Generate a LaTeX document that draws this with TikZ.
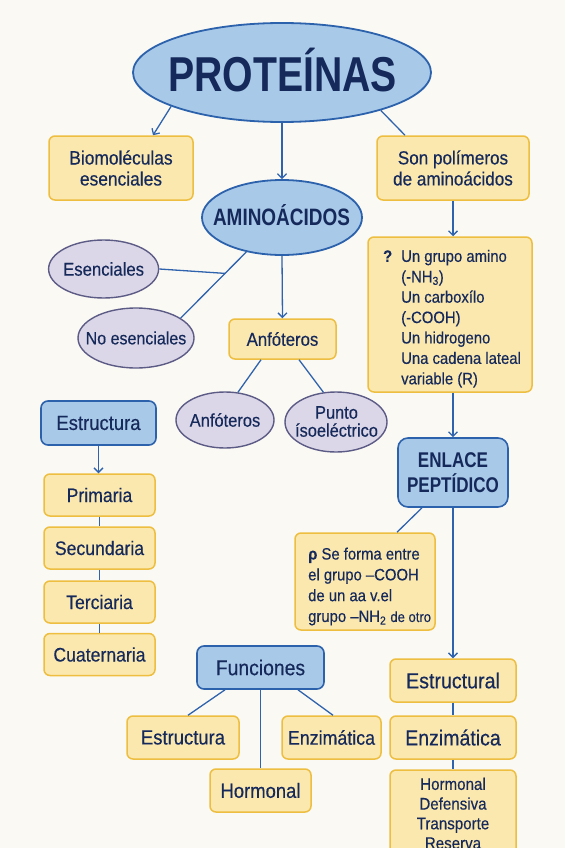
\documentclass[tikz,border=0pt]{standalone}
\usepackage{fontspec}
\setmainfont{Liberation Sans}[FakeStretch=0.9,FakeBold=0.35]
\newfontfamily\hfont{Liberation Sans}[FakeStretch=0.8]
\usetikzlibrary{shapes.geometric,arrows.meta}
\definecolor{bg}{HTML}{FBF9F4}
\definecolor{bf}{HTML}{A9C9E9}
\definecolor{bb}{HTML}{2C62AC}
\definecolor{yf}{HTML}{FBE8AF}
\definecolor{yb}{HTML}{EDBE3F}
\definecolor{lf}{HTML}{DCD7E8}
\definecolor{lb}{HTML}{5C5B86}
\definecolor{navy}{HTML}{15295A}
\definecolor{ln}{HTML}{2F63AD}
\begin{document}
\begin{tikzpicture}[x=1pt,y=-1pt,
  every node/.style={text=navy},
  blueell/.style={ellipse, draw=bb, fill=bf, line width=1.8pt},
  lell/.style={ellipse, draw=lb, fill=lf, line width=1.4pt},
  ybox/.style={rectangle, rounded corners=6pt, draw=yb, fill=yf, line width=1.5pt, align=center, inner sep=0pt},
  bbox/.style={rectangle, rounded corners=7pt, draw=bb, fill=bf, line width=1.6pt, align=center, inner sep=0pt},
  conn/.style={draw=ln, line width=1.3pt},
  arr/.style={conn, -{Straight Barb[length=4.5pt,width=9pt]}},
  lbl/.style={inner sep=0pt, align=center},
]
\fill[bg] (0,0) rectangle (565,848);
\useasboundingbox (0,0) rectangle (565,848);
\clip (0,0) rectangle (565,848);

% top
\node[blueell, minimum width=298pt, minimum height=99pt] (prot) at (282,72.5) {};
\node[lbl, anchor=base, font=\hfont\bfseries\fontsize{49}{49}\selectfont] (protT) at (282.5,91.7) {PROTEÍNAS};

\node[ybox, minimum width=144pt, minimum height=64pt, font=\fontsize{19.3}{21}\selectfont] (bio) at (121,168) {Biomoléculas\\esenciales};
\node[ybox, minimum width=152pt, minimum height=64pt, font=\fontsize{19}{21}\selectfont] (son) at (453,168) {Son polímeros\\de aminoácidos};

\node[blueell, minimum width=160pt, minimum height=75pt] (amino) at (282,217.5) {};
\node[lbl, anchor=base, font=\hfont\bfseries\fontsize{23.7}{24}\selectfont] (aminoT) at (281.5,225) {AMINOÁCIDOS};

\node[lell, minimum width=110pt, minimum height=58pt] (esen) at (103.6,269) {};
\node[lbl, font=\fontsize{18.6}{20}\selectfont] (esenT) at (esen) {Esenciales};
\node[lell, minimum width=116pt, minimum height=60pt] (noes) at (136,338) {};
\node[lbl, font=\fontsize{17.8}{20}\selectfont] (noesT) at (noes) {No esenciales};

\node[ybox, minimum width=107pt, minimum height=40pt, font=\fontsize{18.6}{20}\selectfont] (anf) at (282.5,339) {Anfóteros};
\node[lell, minimum width=98pt, minimum height=56pt] (anfe) at (225,420) {};
\node[lbl, font=\fontsize{18.3}{20}\selectfont] (anfeT) at (anfe) {Anfóteros};
\node[lell, minimum width=102pt, minimum height=60pt] (pto) at (336,422) {};
\node[lbl, font=\fontsize{18.2}{18}\selectfont] (ptoT) at (336.5,421.5) {Punto\\ísoeléctrico};

% list box
\node[ybox, minimum width=164pt, minimum height=155pt] (lst) at (450,314.5) {};
\node[lbl, anchor=north west, align=left, font=\fontsize{16.5}{20.4}\selectfont] (lstT) at (401,249.7) {\llap{\textbf{?}\hspace{9pt}}Un grupo amino\\(-NH\textsubscript{3})\\Un carboxílo\\(-COOH)\\Un hidrogeno\\Una cadena lateal\\variable (R)};

% estructura column
\node[bbox, minimum width=115pt, minimum height=44pt, font=\fontsize{20.5}{22}\selectfont] (estr) at (98.5,423) {Estructura};
\node[ybox, minimum width=111pt, minimum height=42pt, font=\fontsize{19.6}{21}\selectfont] (prim) at (99.5,495) {Primaria};
\node[ybox, minimum width=111pt, minimum height=42pt, font=\fontsize{19.6}{21}\selectfont] (sec) at (99.5,548) {Secundaria};
\node[ybox, minimum width=111pt, minimum height=42pt, font=\fontsize{19.6}{21}\selectfont] (terc) at (99.5,602) {Terciaria};
\node[ybox, minimum width=111pt, minimum height=42pt, font=\fontsize{19.6}{21}\selectfont] (cuat) at (99.5,654.5) {Cuaternaria};

% enlace
\node[bbox, rounded corners=10pt, minimum width=110pt, minimum height=69pt, font=\hfont\bfseries\fontsize{21.3}{24.4}\selectfont] (enl) at (453,472.5) {ENLACE\\PEPTÍDICO};

\node[ybox, minimum width=140pt, minimum height=97pt] (sef) at (365,581.5) {};
\node[lbl, anchor=north west, align=left, font=\fontsize{16.5}{20.8}\selectfont] (sefT) at (308,547.4) {\textbf{ρ} Se forma entre\\el grupo –COOH\\de un aa v.el\\grupo –NH\textsubscript{2} {\fontsize{14.5}{20.8}\selectfont de otro}};

% funciones
\node[bbox, minimum width=127pt, minimum height=43pt, font=\fontsize{21.5}{22}\selectfont] (fun) at (260.5,667.5) {Funciones};
\node[ybox, minimum width=112pt, minimum height=43pt, font=\fontsize{20.5}{22}\selectfont] (fest) at (183,737.5) {Estructura};
\node[ybox, minimum width=99pt, minimum height=43pt, font=\fontsize{19.8}{22}\selectfont] (fenz) at (331.5,737.5) {Enzimática};
\node[ybox, minimum width=101pt, minimum height=43pt, font=\fontsize{20.5}{22}\selectfont] (horm) at (260.5,790.5) {Hormonal};

% right column bottom
\node[ybox, minimum width=126pt, minimum height=43pt, font=\fontsize{21.8}{22}\selectfont] (estl) at (453,680.5) {Estructural};
\node[ybox, minimum width=126pt, minimum height=43pt, font=\fontsize{21.7}{22}\selectfont] (enz2) at (453,737.5) {Enzimática};
\node[ybox, minimum width=126pt, minimum height=110pt] (oth) at (453,825) {};
\node[lbl, font=\fontsize{16.8}{19.7}\selectfont] (othT) at (453,813.4) {Hormonal\\Defensiva\\Transporte\\Reserva};

% connectors
\draw[arr] (prot.197.6) -- ([xshift=32pt]bio.north);
\draw[arr] (prot.south) -- (amino.north);
\draw[conn] (prot.339.2) -- ([xshift=-48pt]son.north);
\draw[conn] (amino.224.6) -- coordinate[pos=0.324] (jn) (noes.24.4);
\draw[conn] (esen.east) -- (jn);
\draw[arr] (amino.south) -- (anf.north);
\draw[conn] ([xshift=-21.5pt]anf.south) -- (anfe.65);
\draw[conn] ([xshift=16.5pt]anf.south) -- (pto.113.4);
\draw[arr] (son.south) -- (son.south |- lst.north);
\draw[arr] (lst.south -| enl.north) -- (enl.north);
\draw[conn] ([xshift=-31pt]enl.south) -- ([xshift=32pt]sef.north);
\draw[arr] (enl.south) -- (estl.north);
\draw[conn] (estl.south) -- (enz2.north);
\draw[conn] (enz2.south) -- (oth.north);
\draw[arr] (estr.south) -- (estr.south |- prim.north);
\draw[conn] (prim.south) -- (sec.north);
\draw[conn] (sec.south) -- (terc.north);
\draw[conn] (terc.south) -- (cuat.north);
\draw[conn] ([xshift=-35.5pt]fun.south) -- ([xshift=5pt]fest.north);
\draw[conn] (fun.south) -- (horm.north);
\draw[conn] ([xshift=37.5pt]fun.south) -- ([xshift=1.5pt]fenz.north);
\end{tikzpicture}
\end{document}
